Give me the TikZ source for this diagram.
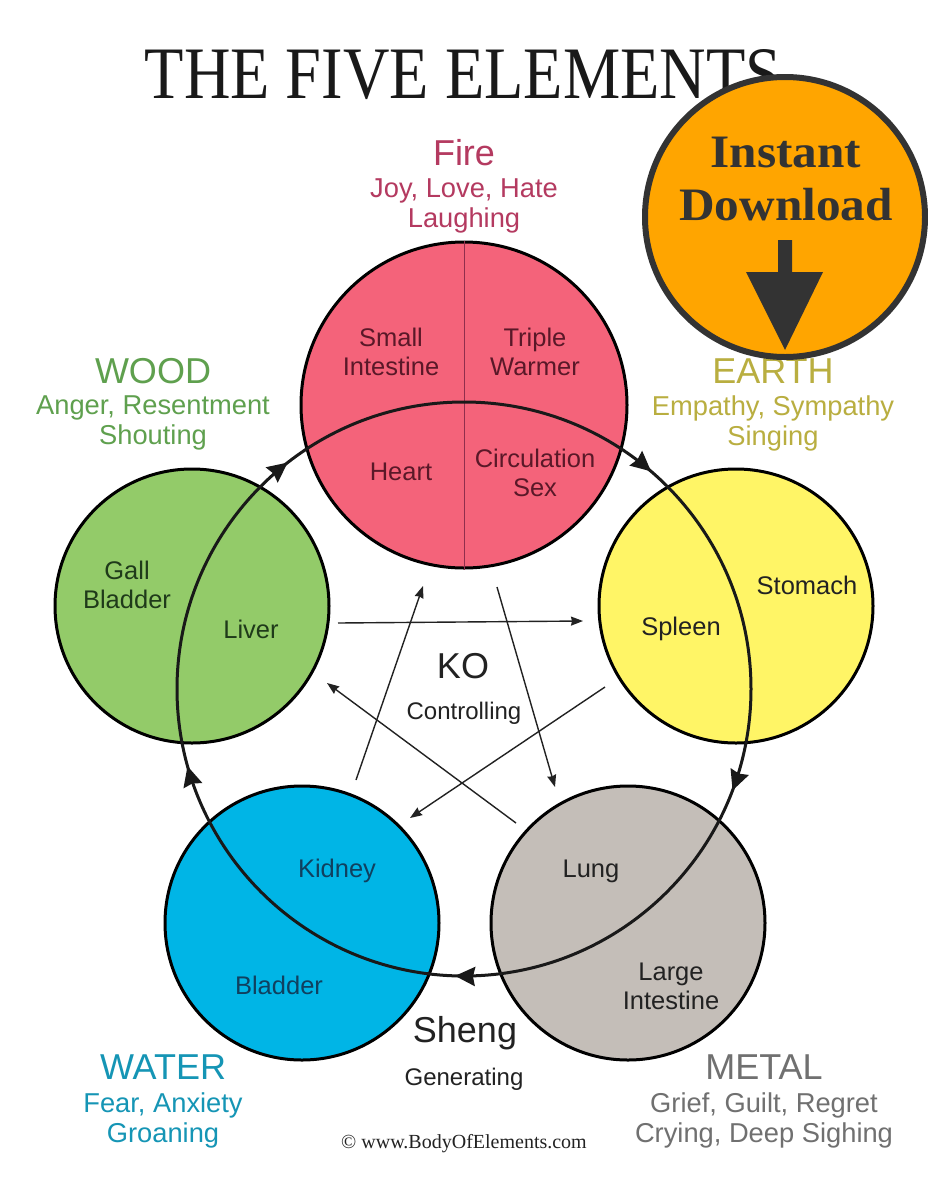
\documentclass[tikz,border=0pt]{standalone}
\usepackage{fontspec}
\setmainfont{Liberation Sans}
\newfontfamily\serifface{Liberation Serif}
\usetikzlibrary{arrows.meta,decorations.markings}
\definecolor{firefill}{HTML}{F4637A}
\definecolor{woodfill}{HTML}{93CB69}
\definecolor{earthfill}{HTML}{FFF566}
\definecolor{waterfill}{HTML}{00B5E6}
\definecolor{metalfill}{HTML}{C4BEB8}
\definecolor{firetext}{HTML}{B43A60}
\definecolor{woodtext}{HTML}{5FA04E}
\definecolor{earthtext}{HTML}{B9AE40}
\definecolor{watertext}{HTML}{1595B5}
\definecolor{metaltext}{HTML}{707070}
\definecolor{orangefill}{HTML}{FFA500}
\definecolor{badgedark}{HTML}{333333}
\definecolor{inktext}{HTML}{222222}
\definecolor{fireink}{HTML}{5A1828}
\definecolor{woodink}{HTML}{1F3A1A}
\definecolor{waterink}{HTML}{10405F}
\tikzset{
  x=1pt,y=-1pt,
  element/.style={circle,draw=black,line width=3pt,inner sep=0pt,minimum size=#1},
  organ/.style={align=center,font=\fontsize{25.5}{29}\selectfont,text=inktext,inner sep=0pt},
  caption/.style={align=center,font=\fontsize{24}{28}\selectfont,text=inktext,inner sep=0pt},
  head/.style={align=center,font=\fontsize{36}{38}\selectfont,inner sep=0pt},
  sub/.style={align=center,font=\fontsize{27.3}{30}\selectfont,inner sep=0pt},
  koarrow/.style={-{Stealth[length=12pt,width=9pt,inset=1pt]},line width=1.4pt,draw=inktext},
  shengtip/.tip={Stealth[length=20pt,width=19pt,inset=2pt]},
}
\begin{document}
\begin{tikzpicture}
\useasboundingbox (0,0) rectangle (928,1200);
\fill[white] (0,0) rectangle (928,1200);
% title
\node[inner sep=0pt,text=black!90,xscale=0.87,font=\serifface\fontsize{74}{80}\selectfont] (title) at (463,75) {THE FIVE ELEMENTS};
% element circles
\node[element=326pt,fill=firefill] (fire) at (464,405) {};
\node[element=274pt,fill=earthfill] (earth) at (736,606) {};
\node[element=274pt,fill=metalfill] (metal) at (628,923) {};
\node[element=274pt,fill=waterfill] (water) at (302,923) {};
\node[element=274pt,fill=woodfill] (wood) at (192,606) {};
\draw[line width=0.7pt,draw=firetext!80!black] (fire.north) -- (fire.south);
% sheng cycle
\coordinate (cyc) at (464,689);
\draw[line width=3pt,draw=black!90,
  postaction={decorate},
  decoration={markings,
   mark=at position 0.113 with {\arrow{shengtip}},
   mark=at position 0.3075 with {\arrow{shengtip}},
   mark=at position 0.505 with {\arrow{shengtip}},
   mark=at position 0.7067 with {\arrow{shengtip}},
   mark=at position 0.8947 with {\arrow{shengtip}}}]
  (cyc) ++(0,-287) arc[start angle=-90,end angle=270,radius=287];
% ko arrows
\coordinate (k1a) at (338,623); \coordinate (k1b) at (583,621);
\coordinate (k2a) at (605,687); \coordinate (k2b) at (410,818);
\coordinate (k3a) at (516,823); \coordinate (k3b) at (327,683);
\coordinate (k4a) at (356,780); \coordinate (k4b) at (423,586);
\coordinate (k5a) at (497,587); \coordinate (k5b) at (555,787);
\draw[koarrow] (k1a) -- (k1b);
\draw[koarrow] (k2a) -- (k2b);
\draw[koarrow] (k3a) -- (k3b);
\draw[koarrow] (k4a) -- (k4b);
\draw[koarrow] (k5a) -- (k5b);
% organs
\node[organ,text=fireink] (si) at (391,352) {Small\\Intestine};
\node[organ,text=fireink] (tw) at (535,352) {Triple\\Warmer};
\node[organ,text=fireink] (ht) at (401,472) {Heart};
\node[organ,text=fireink] (cs) at (535,473) {Circulation\\Sex};
\node[organ,text=woodink] (gb) at (127,585) {Gall\\Bladder};
\node[organ,text=woodink] (lv) at (251,629) {Liver};
\node[organ] (st) at (807,585) {Stomach};
\node[organ] (sp) at (681,629) {Spleen};
\node[organ,text=waterink] (kd) at (337,871) {Kidney};
\node[organ,text=waterink] (bl) at (279,985) {Bladder};
\node[organ] (lg) at (591,871) {Lung};
\node[organ] (li) at (671,986) {Large\\Intestine};
% centre labels
\node[inner sep=0pt,text=inktext,font=\fontsize{36}{38}\selectfont] (ko) at (463,666) {KO};
\node[caption] (ctl) at (464,713) {Controlling};
\node[inner sep=0pt,text=inktext,font=\fontsize{36}{38}\selectfont] (sheng) at (465,1033) {Sheng};
\node[caption] (gen) at (464,1079) {Generating};
% headers
\node[head,text=firetext] (h1) at (464,153) {Fire};
\node[sub,text=firetext] (s1) at (464,206) {Joy, Love, Hate\\Laughing};
\node[head,text=woodtext] (h2) at (153,371) {WOOD};
\node[sub,text=woodtext] (s2) at (153,423) {Anger, Resentment\\Shouting};
\node[head,text=earthtext] (h3) at (773,371) {EARTH};
\node[sub,text=earthtext] (s3) at (773,423) {Empathy, Sympathy\\Singing};
\node[head,text=watertext] (h4) at (163,1067) {WATER};
\node[sub,text=watertext] (s4) at (163,1120) {Fear, Anxiety\\Groaning};
\node[head,text=metaltext] (h5) at (764,1067) {METAL};
\node[sub,text=metaltext] (s5) at (764,1120) {Grief, Guilt, Regret\\Crying, Deep Sighing};
\node[inner sep=0pt,text=inktext,font=\serifface\fontsize{20}{21}\selectfont] (cr) at (464,1144) {© www.BodyOfElements.com};
% badge
\node[circle,draw=badgedark,line width=6pt,fill=orangefill,inner sep=0pt,minimum size=280pt] (badge) at (785,217) {};
\node[inner sep=0pt,align=center,text=badgedark,xscale=1.06,font=\serifface\bfseries\fontsize{46.5}{53}\selectfont] (dl) at (786,179) {Instant\\Download};
\coordinate (shafttop) at (785,240);
\coordinate (tip) at (785,350);
\fill[badgedark] (shafttop) ++(-7,0) -- ++(14,0) -- ++(0,32) -- ++(31,0) -- (tip) -- (746,272) -- (778,272) -- cycle;
\end{tikzpicture}
\end{document}
